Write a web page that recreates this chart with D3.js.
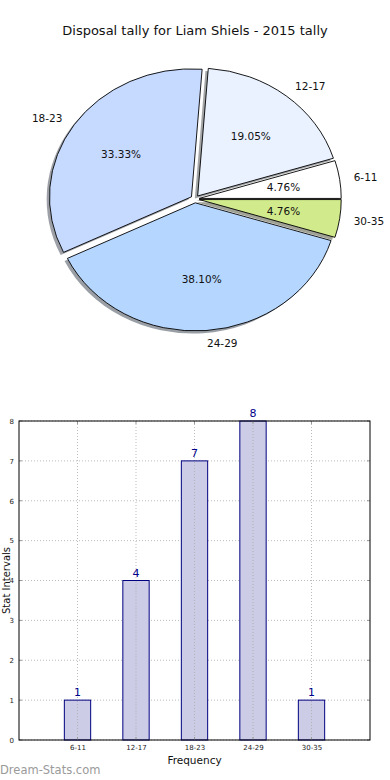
<!DOCTYPE html>
<html><head><meta charset="utf-8">
<script src="https://cdn.jsdelivr.net/npm/d3@7"></script>
<style>
body{margin:0;background:#fff}
svg{display:block;font-family:"DejaVu Sans",sans-serif}
</style>
</head><body>
<svg id="c" width="390" height="780"></svg>
<script>
// ---- data ----
const title = "Disposal tally for Liam Shiels - 2015 tally";
const categories = ["6-11", "12-17", "18-23", "24-29", "30-35"];
const counts = [1, 4, 7, 8, 1];
const yTicks = [0, 1, 2, 3, 4, 5, 6, 7, 8];
const pieColors = ["#ffffff", "#eaf2ff", "#c6d9ff", "#b5d6ff", "#d1ea8b"];
const explode = [0.03, 0.03, 0.03, 0.03, 0.03];
const xLabel = "Frequency";
const yLabel = "Stat Intervals";
const watermark = "Dream-Stats.com";

const svg = d3.select("#c");

// ---- title ----
svg.append("text").attr("x", 195).attr("y", 30).attr("text-anchor", "middle")
  .attr("dominant-baseline", "central").attr("font-size", 13).attr("fill", "#111").text(title);

// ---- pie ----
const cx = 195, cy = 199, rx = 142, ry = 128;
const total = d3.sum(counts);
const pie = d3.pie().sort(null).value(d => d)
  .startAngle(Math.PI / 2).endAngle(Math.PI / 2 - 2 * Math.PI);
const arcs = pie(counts);
const arcGen = d3.arc().innerRadius(0).outerRadius(1);
const gPie = svg.append("g");
function wedgeCenter(d, i) {
  const a = (d.startAngle + d.endAngle) / 2;
  return [cx + explode[i] * rx * Math.sin(a), cy - explode[i] * ry * Math.cos(a)];
}
// shadows
gPie.selectAll("path.shadow").data(arcs).join("path").attr("class", "shadow")
  .attr("d", arcGen)
  .attr("transform", (d, i) => { const c = wedgeCenter(d, i); return `translate(${c[0] - 0.02 * rx},${c[1] + 0.02 * ry}) scale(${rx},${ry})`; })
  .attr("fill", (d, i) => { const c = d3.rgb(pieColors[i]); return d3.rgb(c.r * 0.3, c.g * 0.3, c.b * 0.3); })
  .attr("fill-opacity", 0.5).attr("stroke", "none");
// wedges
gPie.selectAll("path.wedge").data(arcs).join("path").attr("class", "wedge")
  .attr("d", arcGen)
  .attr("transform", (d, i) => { const c = wedgeCenter(d, i); return `translate(${c[0]},${c[1]}) scale(${rx},${ry})`; })
  .attr("fill", (d, i) => pieColors[i])
  .attr("stroke", "#000").attr("stroke-width", 0.9)
  .attr("vector-effect", "non-scaling-stroke").attr("stroke-linejoin", "round");
// labels
arcs.forEach((d, i) => {
  const a = (d.startAngle + d.endAngle) / 2;
  const s = Math.sin(a), c = Math.cos(a);
  const lx = cx + (explode[i] + 1.1) * rx * s, ly = cy - (explode[i] + 1.1) * ry * c;
  gPie.append("text").attr("x", lx).attr("y", ly)
    .attr("text-anchor", s > 0 ? "start" : "end").attr("dominant-baseline", "central")
    .attr("font-size", 10.5).attr("fill", "#111").text(categories[i]);
  const px = cx + (explode[i] + 0.6) * rx * s, py = cy - (explode[i] + 0.6) * ry * c;
  gPie.append("text").attr("x", px).attr("y", py)
    .attr("text-anchor", "middle").attr("dominant-baseline", "central")
    .attr("font-size", 10.5).attr("fill", "#111").text((counts[i] / total * 100).toFixed(2) + "%");
});

// ---- bar chart ----
const L = 19, R = 370, T = 421, B = 740;
const x = d3.scaleLinear().domain([0, categories.length + 1]).range([L, R]);
const y = d3.scaleLinear().domain([0, 8]).range([B, T]);
const gBar = svg.append("g");
const barW = 0.45;
// grid
gBar.selectAll("line.hg").data(yTicks).join("line").attr("class", "hg")
  .attr("x1", L).attr("x2", R).attr("y1", d => y(d)).attr("y2", d => y(d))
  .attr("stroke", "#bdbdbd").attr("stroke-width", 1).attr("stroke-dasharray", "1,2");
gBar.selectAll("line.vg").data(categories).join("line").attr("class", "vg")
  .attr("x1", (d, i) => x(i + 1)).attr("x2", (d, i) => x(i + 1)).attr("y1", T).attr("y2", B)
  .attr("stroke", "#bdbdbd").attr("stroke-width", 1).attr("stroke-dasharray", "1,2");
// bars
gBar.selectAll("rect.bar").data(counts).join("rect").attr("class", "bar")
  .attr("x", (d, i) => x(i + 1 - barW / 2)).attr("width", x(barW) - x(0))
  .attr("y", d => y(d)).attr("height", d => B - y(d))
  .attr("fill", "#ccccE6").attr("stroke", "#000080").attr("stroke-width", 1);
// vertical grid over bars
gBar.selectAll("line.vg2").data(counts).join("line").attr("class", "vg2")
  .attr("x1", (d, i) => x(i + 1)).attr("x2", (d, i) => x(i + 1)).attr("y1", d => y(d) + 1).attr("y2", B)
  .attr("stroke", "#b0b0b0").attr("stroke-width", 1).attr("stroke-dasharray", "1,2");
// value labels
gBar.selectAll("text.val").data(counts).join("text").attr("class", "val")
  .attr("x", (d, i) => x(i + 1)).attr("y", d => y(d) - 4)
  .attr("text-anchor", "middle").attr("font-size", 11).attr("fill", "#00008b").text(d => d);
// axes
const yAxis = d3.axisLeft(y).tickValues(yTicks).tickSize(0).tickPadding(5).tickFormat(d3.format("d"));
const ya = gBar.append("g").attr("transform", `translate(${L},0)`).call(yAxis);
ya.select(".domain").remove();
ya.selectAll("text").attr("font-size", 7).attr("fill", "#222").attr("font-family", "DejaVu Sans");
const xAxis = d3.axisBottom(x).tickValues(categories.map((c, i) => i + 1)).tickSize(0).tickPadding(5)
  .tickFormat((d) => categories[d - 1]);
const xa = gBar.append("g").attr("transform", `translate(0,${B})`).call(xAxis);
xa.select(".domain").remove();
xa.selectAll("text").attr("font-size", 7).attr("fill", "#222").attr("font-family", "DejaVu Sans");
// inner ticks
yTicks.forEach(t => {
  gBar.append("line").attr("x1", L).attr("x2", L + 3).attr("y1", y(t)).attr("y2", y(t)).attr("stroke", "#999");
  gBar.append("line").attr("x1", R - 3).attr("x2", R).attr("y1", y(t)).attr("y2", y(t)).attr("stroke", "#999");
});
categories.forEach((c, i) => {
  gBar.append("line").attr("x1", x(i + 1)).attr("x2", x(i + 1)).attr("y1", B).attr("y2", B - 3).attr("stroke", "#999");
  gBar.append("line").attr("x1", x(i + 1)).attr("x2", x(i + 1)).attr("y1", T).attr("y2", T + 3).attr("stroke", "#999");
});
// frame
gBar.append("rect").attr("x", L).attr("y", T).attr("width", R - L).attr("height", B - T)
  .attr("fill", "none").attr("stroke", "#000").attr("stroke-width", 1);
// axis labels
svg.append("text").attr("x", (L + R) / 2).attr("y", 760).attr("text-anchor", "middle")
  .attr("dominant-baseline", "central").attr("font-size", 10.5).attr("fill", "#111").text(xLabel);
svg.append("text").attr("transform", `translate(6,${(T + B) / 2}) rotate(-90)`).attr("text-anchor", "middle")
  .attr("dominant-baseline", "central").attr("font-size", 10).attr("fill", "#111").text(yLabel);
// watermark
svg.append("text").attr("x", 0).attr("y", 770).attr("dominant-baseline", "central")
  .attr("font-size", 11.5).attr("fill", "#9a9a9a").text(watermark);
</script>
</body></html>
